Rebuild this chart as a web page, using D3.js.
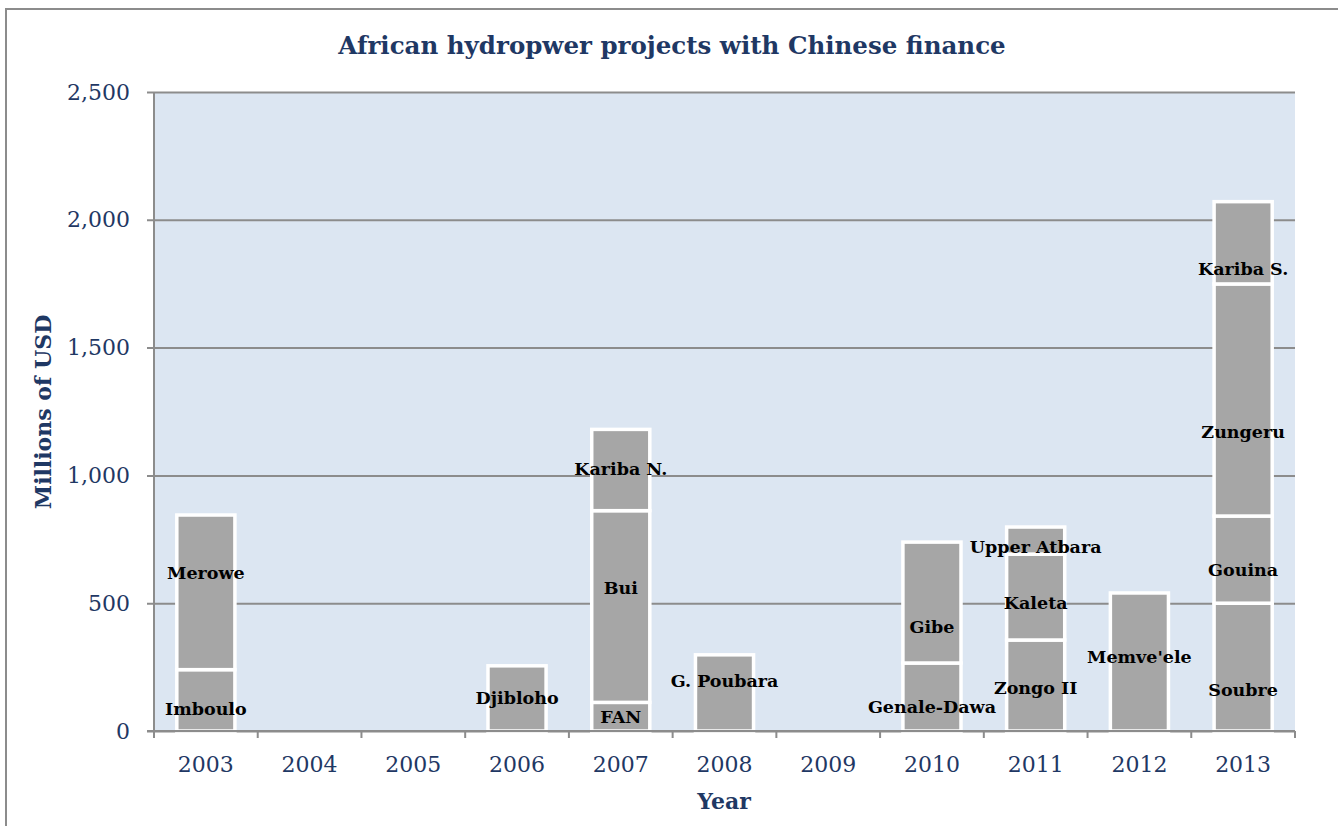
<!DOCTYPE html>
<html>
<head>
<meta charset="utf-8">
<script src="https://cdn.jsdelivr.net/npm/d3@7"></script>
<style>
  body { margin: 0; background: #fff; }
  svg { display: block; }
</style>
</head>
<body>
<svg id="chart" width="1338" height="826"></svg>
<script>
// Years on the x axis
const years = ["2003", "2004", "2005", "2006", "2007", "2008", "2009", "2010", "2011", "2012", "2013"];

// One entry per project, stacked bottom-up in this order within each year
const projects = ["Imboulo", "Merowe", "Djibloho", "FAN", "Bui", "Kariba N.", "G. Poubara",
  "Genale-Dawa", "Gibe", "Zongo II", "Kaleta", "Upper Atbara", "Memve'ele",
  "Soubre", "Gouina", "Zungeru", "Kariba S."];
const projectYears = ["2003", "2003", "2006", "2007", "2007", "2007", "2008",
  "2010", "2010", "2011", "2011", "2011", "2012",
  "2013", "2013", "2013", "2013"];
// Millions of USD
const projectValues = [240, 605, 255, 112, 750, 318, 298,
  266, 473, 356, 336, 106, 540,
  500, 341, 908, 322];
// value (millions of USD) where each data label sits
const labelAt = [86, 618, 129, 55, 559, 1025, 196,
  94, 407, 168, 501, 720, 290,
  160, 630, 1170, 1807];

const yTicks = [0, 500, 1000, 1500, 2000, 2500];

const navy = "#1f3864";
const gridGray = "#8c8c8c";

const svg = d3.select("#chart");

// outer frame
svg.append("rect")
  .attr("x", 6).attr("y", 9)
  .attr("width", 1345).attr("height", 830)
  .attr("fill", "none")
  .attr("stroke", gridGray)
  .attr("stroke-width", 2);

const plot = { left: 154, right: 1295, top: 92, bottom: 731 };

const x = d3.scaleBand()
  .domain(years)
  .range([plot.left, plot.right])
  .paddingInner(0.44)
  .paddingOuter(0.22);

const y = d3.scaleLinear()
  .domain([0, 2500])
  .range([plot.bottom, plot.top]);

// plot background
svg.append("rect")
  .attr("x", plot.left).attr("y", plot.top)
  .attr("width", plot.right - plot.left)
  .attr("height", plot.bottom - plot.top)
  .attr("fill", "#dce6f2");

// gridlines + y ticks
const yAxis = d3.axisLeft(y)
  .tickValues(yTicks)
  .tickSize(-(plot.right - plot.left))
  .tickSizeOuter(0)
  .tickPadding(24)
  .tickFormat(d3.format(","));

const gy = svg.append("g")
  .attr("transform", `translate(${plot.left},0)`)
  .call(yAxis);
gy.select(".domain").remove();
gy.selectAll(".tick line")
  .attr("x1", -7)
  .attr("stroke", gridGray)
  .attr("stroke-width", 2);
gy.selectAll(".tick text")
  .attr("fill", navy)
  .style("font-family", "'DejaVu Serif', serif")
  .style("font-size", "22px");

// stacked segments
let running = {};
const segments = projects.map((name, i) => {
  const yr = projectYears[i];
  const y0 = running[yr] || 0;
  const y1 = y0 + projectValues[i];
  running[yr] = y1;
  return { name: name, year: yr, y0: y0, y1: y1, label: labelAt[i] };
});

svg.append("g")
  .selectAll("rect")
  .data(segments)
  .join("rect")
  .attr("x", d => x(d.year))
  .attr("y", d => y(d.y1))
  .attr("width", x.bandwidth())
  .attr("height", d => y(d.y0) - y(d.y1))
  .attr("fill", "#a6a6a6")
  .attr("stroke", "#ffffff")
  .attr("stroke-width", 3.5);

// y axis line (drawn over bars)
svg.append("line")
  .attr("x1", plot.left).attr("x2", plot.left)
  .attr("y1", plot.top).attr("y2", plot.bottom)
  .attr("stroke", gridGray)
  .attr("stroke-width", 2);

// x axis: ticks at category boundaries
const step = x.step();
const boundaries = d3.range(years.length + 1).map(i => plot.left + i * step);
const gx = svg.append("g");
gx.append("line")
  .attr("x1", plot.left - 7).attr("x2", plot.right)
  .attr("y1", plot.bottom).attr("y2", plot.bottom)
  .attr("stroke", gridGray)
  .attr("stroke-width", 2);
gx.selectAll(".tk")
  .data(boundaries)
  .join("line")
  .attr("class", "tk")
  .attr("x1", d => d).attr("x2", d => d)
  .attr("y1", plot.bottom).attr("y2", plot.bottom + 7)
  .attr("stroke", gridGray)
  .attr("stroke-width", 2);
gx.selectAll("text")
  .data(years)
  .join("text")
  .attr("x", d => x(d) + x.bandwidth() / 2)
  .attr("y", 771.5)
  .attr("text-anchor", "middle")
  .attr("fill", navy)
  .style("font-family", "'DejaVu Serif', serif")
  .style("font-size", "22px")
  .text(d => d);

// data labels
svg.append("g")
  .selectAll("text")
  .data(segments)
  .join("text")
  .attr("x", d => x(d.year) + x.bandwidth() / 2)
  .attr("y", d => y(d.label))
  .attr("dy", "0.35em")
  .attr("text-anchor", "middle")
  .attr("fill", "#000")
  .style("font-family", "'DejaVu Serif', serif")
  .style("font-weight", "bold")
  .style("font-size", "17.5px")
  .text(d => d.name);

// title
svg.append("text")
  .attr("x", 672).attr("y", 54)
  .attr("text-anchor", "middle")
  .attr("fill", navy)
  .style("font-family", "'DejaVu Serif', serif")
  .style("font-weight", "bold")
  .style("font-size", "24.5px")
  .text("African hydropwer projects with Chinese finance");

// axis titles
svg.append("text")
  .attr("transform", "translate(51,412) rotate(-90)")
  .attr("text-anchor", "middle")
  .attr("fill", navy)
  .style("font-family", "'DejaVu Serif', serif")
  .style("font-weight", "bold")
  .style("font-size", "22px")
  .text("Millions of USD");

svg.append("text")
  .attr("x", 724).attr("y", 809)
  .attr("text-anchor", "middle")
  .attr("fill", navy)
  .style("font-family", "'DejaVu Serif', serif")
  .style("font-weight", "bold")
  .style("font-size", "22px")
  .text("Year");
</script>
</body>
</html>
